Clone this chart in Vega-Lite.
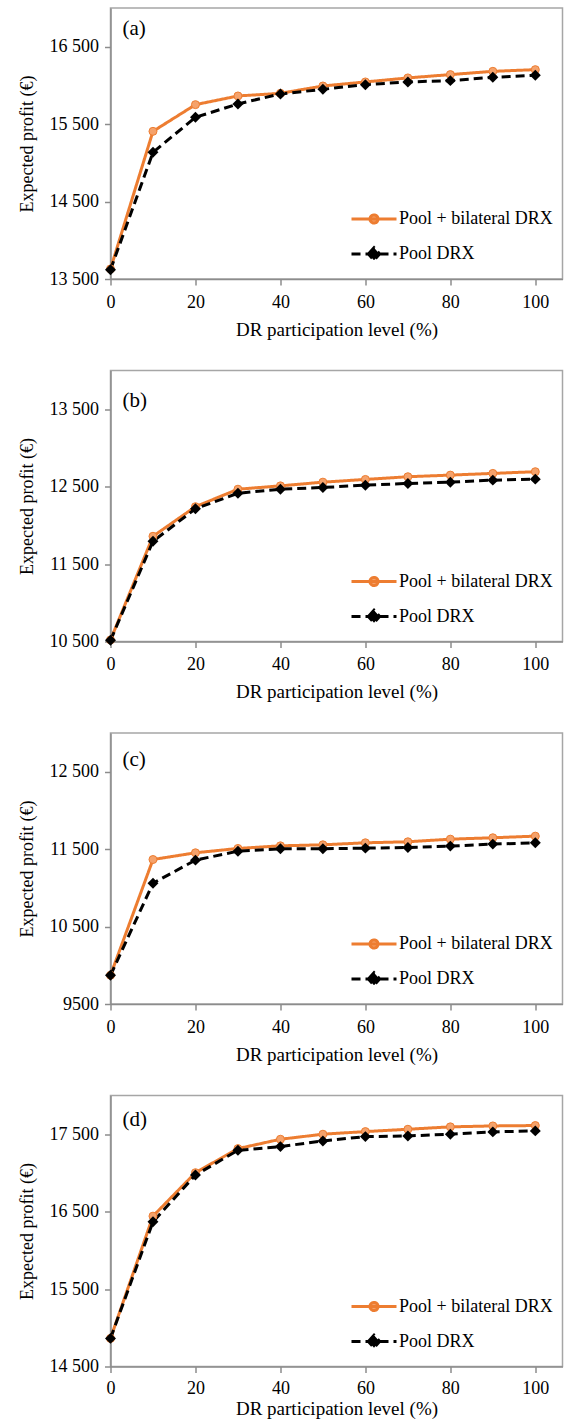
{
  "$schema": "https://vega.github.io/schema/vega-lite/v6.json",
  "background": "white",
  "padding": {"left": 16.5, "top": 7, "right": 5, "bottom": 5},
  "config": {
    "font": "Liberation Serif",
    "view": {"stroke": "#A6A6A6", "strokeWidth": 1.5},
    "axis": {"domainColor": "#8C8C8C", "domainWidth": 1.5, "tickColor": "#8C8C8C", "tickWidth": 1.5, "tickSize": 6, "grid": false, "labelFont": "Liberation Serif", "labelFontSize": 18, "labelColor": "#000000", "titleFont": "Liberation Serif", "titleFontSize": 18, "titleFontWeight": "normal", "titleColor": "#000000", "labelPadding": 6},
    "axisX": {"titlePadding": 9, "labelFlush": false, "labelPadding": 8, "titleFontSize": 19},
    "axisY": {"titlePadding": 13},
    "legend": {"labelFont": "Liberation Serif", "labelFontSize": 18, "labelColor": "#000000", "padding": 0, "offset": 0},
    "title": {"font": "Liberation Serif", "fontSize": 21, "fontWeight": "normal", "color": "#000000", "anchor": "start", "frame": "group", "baseline": "alphabetic", "offset": 0, "dx": 12}
  },
  "datasets": {
    "profit": [
      {"panel": "a", "series": "Pool + bilateral DRX", "level": 0, "profit": 13630},
      {"panel": "a", "series": "Pool + bilateral DRX", "level": 10, "profit": 15407},
      {"panel": "a", "series": "Pool + bilateral DRX", "level": 20, "profit": 15752},
      {"panel": "a", "series": "Pool + bilateral DRX", "level": 30, "profit": 15864},
      {"panel": "a", "series": "Pool + bilateral DRX", "level": 40, "profit": 15898},
      {"panel": "a", "series": "Pool + bilateral DRX", "level": 50, "profit": 15993},
      {"panel": "a", "series": "Pool + bilateral DRX", "level": 60, "profit": 16045},
      {"panel": "a", "series": "Pool + bilateral DRX", "level": 70, "profit": 16097},
      {"panel": "a", "series": "Pool + bilateral DRX", "level": 80, "profit": 16140},
      {"panel": "a", "series": "Pool + bilateral DRX", "level": 90, "profit": 16182},
      {"panel": "a", "series": "Pool + bilateral DRX", "level": 100, "profit": 16204},
      {"panel": "a", "series": "Pool DRX", "level": 0, "profit": 13620},
      {"panel": "a", "series": "Pool DRX", "level": 10, "profit": 15136},
      {"panel": "a", "series": "Pool DRX", "level": 20, "profit": 15588},
      {"panel": "a", "series": "Pool DRX", "level": 30, "profit": 15761},
      {"panel": "a", "series": "Pool DRX", "level": 40, "profit": 15890},
      {"panel": "a", "series": "Pool DRX", "level": 50, "profit": 15950},
      {"panel": "a", "series": "Pool DRX", "level": 60, "profit": 16010},
      {"panel": "a", "series": "Pool DRX", "level": 70, "profit": 16045},
      {"panel": "a", "series": "Pool DRX", "level": 80, "profit": 16062},
      {"panel": "a", "series": "Pool DRX", "level": 90, "profit": 16105},
      {"panel": "a", "series": "Pool DRX", "level": 100, "profit": 16131},
      {"panel": "b", "series": "Pool + bilateral DRX", "level": 0, "profit": 10520},
      {"panel": "b", "series": "Pool + bilateral DRX", "level": 10, "profit": 11859},
      {"panel": "b", "series": "Pool + bilateral DRX", "level": 20, "profit": 12241},
      {"panel": "b", "series": "Pool + bilateral DRX", "level": 30, "profit": 12467},
      {"panel": "b", "series": "Pool + bilateral DRX", "level": 40, "profit": 12510},
      {"panel": "b", "series": "Pool + bilateral DRX", "level": 50, "profit": 12558},
      {"panel": "b", "series": "Pool + bilateral DRX", "level": 60, "profit": 12593},
      {"panel": "b", "series": "Pool + bilateral DRX", "level": 70, "profit": 12628},
      {"panel": "b", "series": "Pool + bilateral DRX", "level": 80, "profit": 12649},
      {"panel": "b", "series": "Pool + bilateral DRX", "level": 90, "profit": 12671},
      {"panel": "b", "series": "Pool + bilateral DRX", "level": 100, "profit": 12693},
      {"panel": "b", "series": "Pool DRX", "level": 0, "profit": 10515},
      {"panel": "b", "series": "Pool DRX", "level": 10, "profit": 11794},
      {"panel": "b", "series": "Pool DRX", "level": 20, "profit": 12215},
      {"panel": "b", "series": "Pool DRX", "level": 30, "profit": 12415},
      {"panel": "b", "series": "Pool DRX", "level": 40, "profit": 12467},
      {"panel": "b", "series": "Pool DRX", "level": 50, "profit": 12489},
      {"panel": "b", "series": "Pool DRX", "level": 60, "profit": 12519},
      {"panel": "b", "series": "Pool DRX", "level": 70, "profit": 12541},
      {"panel": "b", "series": "Pool DRX", "level": 80, "profit": 12558},
      {"panel": "b", "series": "Pool DRX", "level": 90, "profit": 12584},
      {"panel": "b", "series": "Pool DRX", "level": 100, "profit": 12597},
      {"panel": "c", "series": "Pool + bilateral DRX", "level": 0, "profit": 9871},
      {"panel": "c", "series": "Pool + bilateral DRX", "level": 10, "profit": 11366},
      {"panel": "c", "series": "Pool + bilateral DRX", "level": 20, "profit": 11453},
      {"panel": "c", "series": "Pool + bilateral DRX", "level": 30, "profit": 11509},
      {"panel": "c", "series": "Pool + bilateral DRX", "level": 40, "profit": 11543},
      {"panel": "c", "series": "Pool + bilateral DRX", "level": 50, "profit": 11556},
      {"panel": "c", "series": "Pool + bilateral DRX", "level": 60, "profit": 11582},
      {"panel": "c", "series": "Pool + bilateral DRX", "level": 70, "profit": 11595},
      {"panel": "c", "series": "Pool + bilateral DRX", "level": 80, "profit": 11629},
      {"panel": "c", "series": "Pool + bilateral DRX", "level": 90, "profit": 11647},
      {"panel": "c", "series": "Pool + bilateral DRX", "level": 100, "profit": 11668},
      {"panel": "c", "series": "Pool DRX", "level": 0, "profit": 9871},
      {"panel": "c", "series": "Pool DRX", "level": 10, "profit": 11060},
      {"panel": "c", "series": "Pool DRX", "level": 20, "profit": 11358},
      {"panel": "c", "series": "Pool DRX", "level": 30, "profit": 11474},
      {"panel": "c", "series": "Pool DRX", "level": 40, "profit": 11504},
      {"panel": "c", "series": "Pool DRX", "level": 50, "profit": 11505},
      {"panel": "c", "series": "Pool DRX", "level": 60, "profit": 11513},
      {"panel": "c", "series": "Pool DRX", "level": 70, "profit": 11522},
      {"panel": "c", "series": "Pool DRX", "level": 80, "profit": 11539},
      {"panel": "c", "series": "Pool DRX", "level": 90, "profit": 11565},
      {"panel": "c", "series": "Pool DRX", "level": 100, "profit": 11582},
      {"panel": "d", "series": "Pool + bilateral DRX", "level": 0, "profit": 14863},
      {"panel": "d", "series": "Pool + bilateral DRX", "level": 10, "profit": 16442},
      {"panel": "d", "series": "Pool + bilateral DRX", "level": 20, "profit": 17003},
      {"panel": "d", "series": "Pool + bilateral DRX", "level": 30, "profit": 17314},
      {"panel": "d", "series": "Pool + bilateral DRX", "level": 40, "profit": 17435},
      {"panel": "d", "series": "Pool + bilateral DRX", "level": 50, "profit": 17500},
      {"panel": "d", "series": "Pool + bilateral DRX", "level": 60, "profit": 17534},
      {"panel": "d", "series": "Pool + bilateral DRX", "level": 70, "profit": 17564},
      {"panel": "d", "series": "Pool + bilateral DRX", "level": 80, "profit": 17595},
      {"panel": "d", "series": "Pool + bilateral DRX", "level": 90, "profit": 17607},
      {"panel": "d", "series": "Pool + bilateral DRX", "level": 100, "profit": 17612},
      {"panel": "d", "series": "Pool DRX", "level": 0, "profit": 14863},
      {"panel": "d", "series": "Pool DRX", "level": 10, "profit": 16369},
      {"panel": "d", "series": "Pool DRX", "level": 20, "profit": 16973},
      {"panel": "d", "series": "Pool DRX", "level": 30, "profit": 17292},
      {"panel": "d", "series": "Pool DRX", "level": 40, "profit": 17340},
      {"panel": "d", "series": "Pool DRX", "level": 50, "profit": 17413},
      {"panel": "d", "series": "Pool DRX", "level": 60, "profit": 17469},
      {"panel": "d", "series": "Pool DRX", "level": 70, "profit": 17478},
      {"panel": "d", "series": "Pool DRX", "level": 80, "profit": 17500},
      {"panel": "d", "series": "Pool DRX", "level": 90, "profit": 17530},
      {"panel": "d", "series": "Pool DRX", "level": 100, "profit": 17543}
    ]
  },
  "bounds": "flush",
  "spacing": 91.5,
  "resolve": {"scale": {"color": "independent", "strokeDash": "independent"}},
  "vconcat": [
    {
      "width": 452, "height": 271,
      "title": {"text": "(a)", "dy": 35},
      "data": {"name": "profit"},
      "transform": [{"filter": "datum.panel == 'a'"}],
      "layer": [
        {
          "mark": {"type": "line", "strokeWidth": 3},
          "encoding": {
            "x": {"field": "level", "type": "quantitative", "scale": {"domain": [0, 106.4], "nice": false}, "axis": {"values": [0, 20, 40, 60, 80, 100], "title": "DR participation level (%)"}},
            "y": {"field": "profit", "type": "quantitative", "scale": {"domain": [13500, 17000], "nice": false, "zero": false}, "axis": {"values": [13500, 14500, 15500, 16500], "title": "Expected profit (€)", "labelExpr": "datum.value >= 10000 ? replace(format(datum.value, ','), ',', ' ') : format(datum.value, 'd')"}},
            "color": {"field": "series", "type": "nominal", "scale": {"domain": ["Pool + bilateral DRX", "Pool DRX"], "range": ["#ED7D31", "#000000"]}, "legend": {"title": null, "orient": "none", "legendX": 239.5, "legendY": 187, "symbolSize": 100, "labelOffset": 1, "rowPadding": 0, "encode": {"symbols": {"update": {"shape": {"signal": "datum.value == 'Pool DRX' ? 'M-1,0H1M-0.25,0L0,-0.28L0.25,0L0,0.28Z' : 'M-1,0H1M-0.18,0A0.18,0.18,0,1,1,0.18,0A0.18,0.18,0,1,1,-0.18,0Z'"}, "size": {"value": 2025}, "strokeWidth": {"value": 3}, "strokeDash": {"signal": "datum.value == 'Pool DRX' ? [9,5] : [1,0]"}, "fill": {"signal": "datum.value == 'Pool DRX' ? '#000000' : '#F5A26B'"}, "opacity": {"value": 1}}}}}},
            "strokeDash": {"field": "series", "type": "nominal", "scale": {"domain": ["Pool + bilateral DRX", "Pool DRX"], "range": [[1, 0], [9, 5]]}, "legend": null}
          }
        },
        {
          "transform": [{"filter": "datum.series == 'Pool + bilateral DRX'"}],
          "mark": {"type": "point", "shape": "circle", "filled": true, "fill": "#F5A26B", "stroke": "#ED7D31", "strokeWidth": 1, "size": 64, "opacity": 1},
          "encoding": {"x": {"field": "level", "type": "quantitative"}, "y": {"field": "profit", "type": "quantitative"}}
        },
        {
          "transform": [{"filter": "datum.series == 'Pool DRX'"}],
          "mark": {"type": "point", "shape": "diamond", "filled": true, "color": "#000000", "size": 120, "opacity": 1},
          "encoding": {"x": {"field": "level", "type": "quantitative"}, "y": {"field": "profit", "type": "quantitative"}}
        }
      ]
    },
    {
      "width": 452, "height": 271,
      "title": {"text": "(b)", "dy": 44},
      "data": {"name": "profit"},
      "transform": [{"filter": "datum.panel == 'b'"}],
      "layer": [
        {
          "mark": {"type": "line", "strokeWidth": 3},
          "encoding": {
            "x": {"field": "level", "type": "quantitative", "scale": {"domain": [0, 106.4], "nice": false}, "axis": {"values": [0, 20, 40, 60, 80, 100], "title": "DR participation level (%)"}},
            "y": {"field": "profit", "type": "quantitative", "scale": {"domain": [10500, 14000], "nice": false, "zero": false}, "axis": {"values": [10500, 11500, 12500, 13500], "title": "Expected profit (€)", "labelExpr": "datum.value >= 10000 ? replace(format(datum.value, ','), ',', ' ') : format(datum.value, 'd')"}},
            "color": {"field": "series", "type": "nominal", "scale": {"domain": ["Pool + bilateral DRX", "Pool DRX"], "range": ["#ED7D31", "#000000"]}, "legend": {"title": null, "orient": "none", "legendX": 239.5, "legendY": 187, "symbolSize": 100, "labelOffset": 1, "rowPadding": 0, "encode": {"symbols": {"update": {"shape": {"signal": "datum.value == 'Pool DRX' ? 'M-1,0H1M-0.25,0L0,-0.28L0.25,0L0,0.28Z' : 'M-1,0H1M-0.18,0A0.18,0.18,0,1,1,0.18,0A0.18,0.18,0,1,1,-0.18,0Z'"}, "size": {"value": 2025}, "strokeWidth": {"value": 3}, "strokeDash": {"signal": "datum.value == 'Pool DRX' ? [9,5] : [1,0]"}, "fill": {"signal": "datum.value == 'Pool DRX' ? '#000000' : '#F5A26B'"}, "opacity": {"value": 1}}}}}},
            "strokeDash": {"field": "series", "type": "nominal", "scale": {"domain": ["Pool + bilateral DRX", "Pool DRX"], "range": [[1, 0], [9, 5]]}, "legend": null}
          }
        },
        {
          "transform": [{"filter": "datum.series == 'Pool + bilateral DRX'"}],
          "mark": {"type": "point", "shape": "circle", "filled": true, "fill": "#F5A26B", "stroke": "#ED7D31", "strokeWidth": 1, "size": 64, "opacity": 1},
          "encoding": {"x": {"field": "level", "type": "quantitative"}, "y": {"field": "profit", "type": "quantitative"}}
        },
        {
          "transform": [{"filter": "datum.series == 'Pool DRX'"}],
          "mark": {"type": "point", "shape": "diamond", "filled": true, "color": "#000000", "size": 120, "opacity": 1},
          "encoding": {"x": {"field": "level", "type": "quantitative"}, "y": {"field": "profit", "type": "quantitative"}}
        }
      ]
    },
    {
      "width": 452, "height": 271,
      "title": {"text": "(c)", "dy": 41},
      "data": {"name": "profit"},
      "transform": [{"filter": "datum.panel == 'c'"}],
      "layer": [
        {
          "mark": {"type": "line", "strokeWidth": 3},
          "encoding": {
            "x": {"field": "level", "type": "quantitative", "scale": {"domain": [0, 106.4], "nice": false}, "axis": {"values": [0, 20, 40, 60, 80, 100], "title": "DR participation level (%)"}},
            "y": {"field": "profit", "type": "quantitative", "scale": {"domain": [9500, 13000], "nice": false, "zero": false}, "axis": {"values": [9500, 10500, 11500, 12500], "title": "Expected profit (€)", "labelExpr": "datum.value >= 10000 ? replace(format(datum.value, ','), ',', ' ') : format(datum.value, 'd')"}},
            "color": {"field": "series", "type": "nominal", "scale": {"domain": ["Pool + bilateral DRX", "Pool DRX"], "range": ["#ED7D31", "#000000"]}, "legend": {"title": null, "orient": "none", "legendX": 239.5, "legendY": 187, "symbolSize": 100, "labelOffset": 1, "rowPadding": 0, "encode": {"symbols": {"update": {"shape": {"signal": "datum.value == 'Pool DRX' ? 'M-1,0H1M-0.25,0L0,-0.28L0.25,0L0,0.28Z' : 'M-1,0H1M-0.18,0A0.18,0.18,0,1,1,0.18,0A0.18,0.18,0,1,1,-0.18,0Z'"}, "size": {"value": 2025}, "strokeWidth": {"value": 3}, "strokeDash": {"signal": "datum.value == 'Pool DRX' ? [9,5] : [1,0]"}, "fill": {"signal": "datum.value == 'Pool DRX' ? '#000000' : '#F5A26B'"}, "opacity": {"value": 1}}}}}},
            "strokeDash": {"field": "series", "type": "nominal", "scale": {"domain": ["Pool + bilateral DRX", "Pool DRX"], "range": [[1, 0], [9, 5]]}, "legend": null}
          }
        },
        {
          "transform": [{"filter": "datum.series == 'Pool + bilateral DRX'"}],
          "mark": {"type": "point", "shape": "circle", "filled": true, "fill": "#F5A26B", "stroke": "#ED7D31", "strokeWidth": 1, "size": 64, "opacity": 1},
          "encoding": {"x": {"field": "level", "type": "quantitative"}, "y": {"field": "profit", "type": "quantitative"}}
        },
        {
          "transform": [{"filter": "datum.series == 'Pool DRX'"}],
          "mark": {"type": "point", "shape": "diamond", "filled": true, "color": "#000000", "size": 120, "opacity": 1},
          "encoding": {"x": {"field": "level", "type": "quantitative"}, "y": {"field": "profit", "type": "quantitative"}}
        }
      ]
    },
    {
      "width": 452, "height": 271,
      "title": {"text": "(d)", "dy": 38},
      "data": {"name": "profit"},
      "transform": [{"filter": "datum.panel == 'd'"}],
      "layer": [
        {
          "mark": {"type": "line", "strokeWidth": 3},
          "encoding": {
            "x": {"field": "level", "type": "quantitative", "scale": {"domain": [0, 106.4], "nice": false}, "axis": {"values": [0, 20, 40, 60, 80, 100], "title": "DR participation level (%)", "titlePadding": 2, "labelPadding": 7}},
            "y": {"field": "profit", "type": "quantitative", "scale": {"domain": [14500, 18000], "nice": false, "zero": false}, "axis": {"values": [14500, 15500, 16500, 17500], "title": "Expected profit (€)", "labelExpr": "datum.value >= 10000 ? replace(format(datum.value, ','), ',', ' ') : format(datum.value, 'd')"}},
            "color": {"field": "series", "type": "nominal", "scale": {"domain": ["Pool + bilateral DRX", "Pool DRX"], "range": ["#ED7D31", "#000000"]}, "legend": {"title": null, "orient": "none", "legendX": 239.5, "legendY": 187, "symbolSize": 100, "labelOffset": 1, "rowPadding": 0, "encode": {"symbols": {"update": {"shape": {"signal": "datum.value == 'Pool DRX' ? 'M-1,0H1M-0.25,0L0,-0.28L0.25,0L0,0.28Z' : 'M-1,0H1M-0.18,0A0.18,0.18,0,1,1,0.18,0A0.18,0.18,0,1,1,-0.18,0Z'"}, "size": {"value": 2025}, "strokeWidth": {"value": 3}, "strokeDash": {"signal": "datum.value == 'Pool DRX' ? [9,5] : [1,0]"}, "fill": {"signal": "datum.value == 'Pool DRX' ? '#000000' : '#F5A26B'"}, "opacity": {"value": 1}}}}}},
            "strokeDash": {"field": "series", "type": "nominal", "scale": {"domain": ["Pool + bilateral DRX", "Pool DRX"], "range": [[1, 0], [9, 5]]}, "legend": null}
          }
        },
        {
          "transform": [{"filter": "datum.series == 'Pool + bilateral DRX'"}],
          "mark": {"type": "point", "shape": "circle", "filled": true, "fill": "#F5A26B", "stroke": "#ED7D31", "strokeWidth": 1, "size": 64, "opacity": 1},
          "encoding": {"x": {"field": "level", "type": "quantitative"}, "y": {"field": "profit", "type": "quantitative"}}
        },
        {
          "transform": [{"filter": "datum.series == 'Pool DRX'"}],
          "mark": {"type": "point", "shape": "diamond", "filled": true, "color": "#000000", "size": 120, "opacity": 1},
          "encoding": {"x": {"field": "level", "type": "quantitative"}, "y": {"field": "profit", "type": "quantitative"}}
        }
      ]
    }
  ]
}
